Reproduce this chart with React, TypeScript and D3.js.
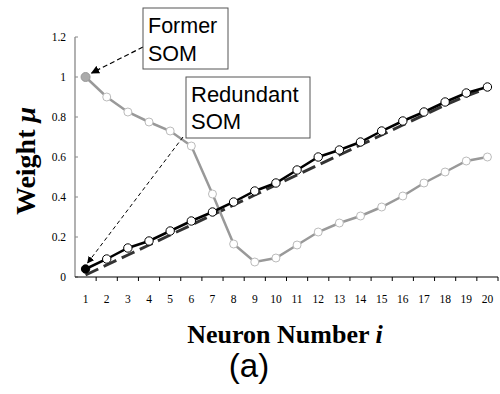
import React from 'react';
import * as d3 from 'd3';

const W = 500;
const H = 394;
const M = { top: 37, right: 2, bottom: 117, left: 75 };

const NEURONS = d3.range(1, 21);
const Y_TICKS = [0, 0.2, 0.4, 0.6, 0.8, 1, 1.2];

// redundant SOM (black line, white markers, first marker filled)
const REDUNDANT = [
  0.04, 0.09, 0.145, 0.18, 0.23, 0.28, 0.325, 0.375, 0.43, 0.47,
  0.535, 0.6, 0.635, 0.675, 0.73, 0.78, 0.825, 0.875, 0.92, 0.95,
];
// former SOM (grey line)
const FORMER = [
  1.0, 0.9, 0.825, 0.775, 0.73, 0.655, 0.415, 0.165, 0.075, 0.095,
  0.16, 0.225, 0.27, 0.305, 0.35, 0.405, 0.47, 0.525, 0.58, 0.6,
];
// reference line (dashed)
const IDEAL = [
  0.01, 0.06, 0.11, 0.16, 0.21, 0.26, 0.31, 0.36, 0.41, 0.46,
  0.51, 0.56, 0.61, 0.66, 0.71, 0.76, 0.81, 0.86, 0.905, 0.945,
];

const SERIF = '"Liberation Serif", "Times New Roman", serif';
const SANS = '"Liberation Sans", Arial, sans-serif';

export default function App() {
  const x = d3
    .scaleBand<number>()
    .domain(NEURONS)
    .range([M.left, W - M.right]);
  const cx = (i: number) => (x(i) ?? 0) + x.bandwidth() / 2;
  const y = d3.scaleLinear().domain([0, 1.2]).range([H - M.bottom, M.top]);

  const line = d3
    .line<number>()
    .x((_, i) => cx(NEURONS[i]))
    .y((d) => y(d));

  const y0 = y(0);

  return (
    <svg width={W} height={H} style={{ position: 'absolute', left: 0, top: 0, background: '#fff' }}>
      <defs>
        <marker id="ah" viewBox="0 0 10 10" refX="9" refY="5" markerWidth="7" markerHeight="7" orient="auto">
          <path d="M0,0 L10,5 L0,10 z" fill="#000" />
        </marker>
      </defs>

      {/* y axis */}
      <line x1={M.left} x2={M.left} y1={y(1.2)} y2={y0} stroke="#888" strokeWidth={1.3} />
      {Y_TICKS.map((t) => (
        <g key={t}>
          <line x1={M.left} x2={M.left + 3} y1={y(t)} y2={y(t)} stroke="#888" />
          <text x={M.left - 9} y={y(t) + 4} textAnchor="end" fontFamily={SERIF} fontSize={11.5}>
            {t}
          </text>
        </g>
      ))}

      {/* x axis */}
      <line x1={M.left} x2={W - M.right} y1={y0} y2={y0} stroke="#000" strokeWidth={1.2} />
      {NEURONS.map((n) => (
        <g key={n}>
          <line x1={(x(n) ?? 0) + x.bandwidth()} x2={(x(n) ?? 0) + x.bandwidth()} y1={y0} y2={y0 + 4} stroke="#000" />
          <text x={cx(n)} y={y0 + 26} textAnchor="middle" fontFamily={SERIF} fontSize={11.5}>
            {n}
          </text>
        </g>
      ))}

      {/* dashed reference */}
      <path d={line(IDEAL) ?? ''} fill="none" stroke="#333" strokeWidth={3} strokeDasharray="14 6" />

      {/* former SOM */}
      <path d={line(FORMER) ?? ''} fill="none" stroke="#999" strokeWidth={2.5} />
      {FORMER.map((v, i) => (
        <circle
          key={`f${i}`}
          cx={cx(NEURONS[i])}
          cy={y(v)}
          r={i === 0 ? 4.5 : 4}
          fill={i === 0 ? '#aaa' : '#fff'}
          stroke={i === 0 ? '#999' : '#bbb'}
          strokeWidth={1}
        />
      ))}

      {/* redundant SOM */}
      <path d={line(REDUNDANT) ?? ''} fill="none" stroke="#000" strokeWidth={2.5} />
      {REDUNDANT.map((v, i) => (
        <circle
          key={`r${i}`}
          cx={cx(NEURONS[i])}
          cy={y(v)}
          r={4.2}
          fill={i === 0 ? '#000' : '#fff'}
          stroke="#000"
          strokeWidth={1}
        />
      ))}

      {/* annotations */}
      <line x1={143} y1={47} x2={cx(1) + 6} y2={y(FORMER[0]) - 4} stroke="#000" strokeWidth={1.2} strokeDasharray="5 3" markerEnd="url(#ah)" />
      <line x1={183} y1={137} x2={cx(1) + 2} y2={y(REDUNDANT[0]) - 6} stroke="#000" strokeWidth={1} strokeDasharray="4 3" markerEnd="url(#ah)" />

      <rect x={143} y={8} width={85} height={61} fill="#fff" stroke="#555" />
      <text x={148} y={33} fontFamily={SANS} fontSize={21.5}>Former</text>
      <text x={148} y={61} fontFamily={SANS} fontSize={21.5}>SOM</text>

      <rect x={186} y={77} width={124} height={61} fill="#fff" stroke="#555" />
      <text x={191} y={102} fontFamily={SANS} fontSize={22}>Redundant</text>
      <text x={191} y={129} fontFamily={SANS} fontSize={22}>SOM</text>

      {/* axis titles */}
      <text
        transform={`translate(35, 161) rotate(-90)`}
        textAnchor="middle"
        fontFamily={SERIF}
        fontSize={28}
        fontWeight="bold"
      >
        Weight <tspan fontStyle="italic">μ</tspan>
      </text>
      <text x={285} y={343} textAnchor="middle" fontFamily={SERIF} fontSize={26} fontWeight="bold">
        Neuron Number <tspan fontStyle="italic">i</tspan>
      </text>
      <text x={249} y={377} textAnchor="middle" fontFamily={SANS} fontSize={33}>
        (a)
      </text>
    </svg>
  );
}
